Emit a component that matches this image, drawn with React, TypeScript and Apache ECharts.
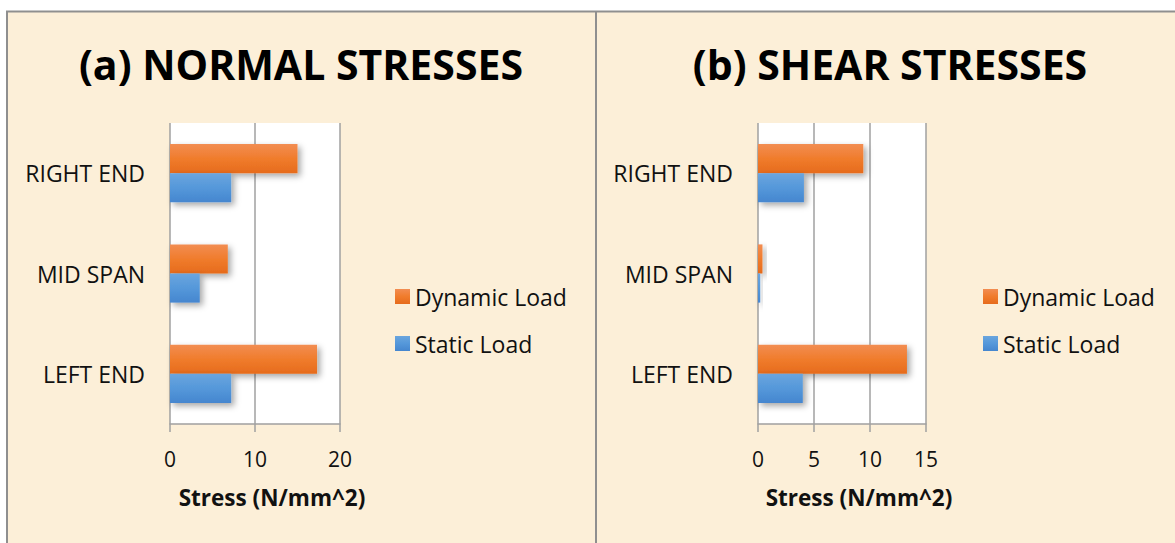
import React, { useEffect, useRef } from "react";
import * as echarts from "echarts";

const categories = ["LEFT END", "MID SPAN", "RIGHT END"];
const normalStatic = [7.2, 3.5, 7.2];
const normalDynamic = [17.3, 6.8, 15.0];
const shearStatic = [4.0, 0.2, 4.1];
const shearDynamic = [13.3, 0.4, 9.4];
const normalTicks = { min: 0, max: 20, interval: 10 };
const shearTicks = { min: 0, max: 15, interval: 5 };
const titles = ["(a) NORMAL STRESSES", "(b) SHEAR STRESSES"];
const axisTitle = "Stress (N/mm^2)";
const seriesNames = ["Dynamic Load", "Static Load"];

const FONT = "Open Sans";

const orange = new echarts.graphic.LinearGradient(0, 0, 0, 1, [
  { offset: 0, color: "#f28d52" },
  { offset: 0.5, color: "#f07c2c" },
  { offset: 1, color: "#e66b1c" },
]);
const blue = new echarts.graphic.LinearGradient(0, 0, 0, 1, [
  { offset: 0, color: "#6aa5de" },
  { offset: 0.5, color: "#5598da" },
  { offset: 1, color: "#4586cf" },
]);

function barSeries(name: string, data: number[], idx: number, color: any) {
  return {
    name,
    type: "bar",
    xAxisIndex: idx,
    yAxisIndex: idx,
    data,
    barGap: "0%",
    barCategoryGap: "42%",
    itemStyle: {
      color,
      shadowBlur: 6,
      shadowOffsetX: 3,
      shadowOffsetY: 3,
      shadowColor: "rgba(0,0,0,0.35)",
    },
  };
}

function xAx(idx: number, t: { min: number; max: number; interval: number }) {
  return {
    type: "value",
    gridIndex: idx,
    min: t.min,
    max: t.max,
    interval: t.interval,
    axisLine: { show: true, lineStyle: { color: "#a0a0a0", width: 1.5 } },
    axisTick: { show: true, length: 8, lineStyle: { color: "#a0a0a0", width: 1.5 } },
    splitLine: { show: true, lineStyle: { color: "#a0a0a0", width: 1.5 } },
    axisLabel: { margin: 24, fontSize: 21, color: "#111", fontFamily: FONT },
    name: axisTitle,
    nameLocation: "middle",
    nameGap: 62,
    nameTextStyle: {
      fontSize: 22.5,
      fontWeight: "bold",
      color: "#111",
      fontFamily: FONT,
      padding: [0, 0, 0, 34],
    },
  };
}

function yAx(idx: number) {
  return {
    type: "category",
    gridIndex: idx,
    data: categories,
    axisLine: { show: false },
    axisTick: { show: false },
    axisLabel: { margin: 25, fontSize: 23, color: "#111", fontFamily: FONT },
  };
}

function legend(left: number) {
  return {
    orient: "vertical",
    left,
    top: 285,
    padding: 0,
    itemWidth: 15,
    itemHeight: 15,
    itemGap: 24,
    icon: "rect",
    data: seriesNames,
    textStyle: { fontSize: 23, color: "#111", fontFamily: FONT, padding: [0, 0, 0, 0] },
  };
}

export default function App() {
  const ref = useRef<HTMLDivElement>(null);
  useEffect(() => {
    document.body.style.margin = "0";
    const chart = echarts.init(ref.current!, null, { renderer: "svg" });
    chart.setOption({
      animation: false,
      backgroundColor: "#ffffff",
      graphic: [
        {
          type: "rect",
          z: -10,
          shape: { x: 7, y: 11.5, width: 1175, height: 540 },
          style: { fill: "#fcefd8", stroke: "#8f8f8f", lineWidth: 2 },
          silent: true,
        },
        {
          type: "line",
          z: -9,
          shape: { x1: 596, y1: 11.5, x2: 596, y2: 543 },
          style: { stroke: "#8f8f8f", lineWidth: 2 },
          silent: true,
        },
        {
          type: "text",
          x: 301,
          y: 64,
          style: {
            text: titles[0],
            fontSize: 41,
            fontWeight: "bold",
            fontFamily: FONT,
            fill: "#000",
            align: "center",
            verticalAlign: "middle",
          },
        },
        {
          type: "text",
          x: 890,
          y: 64,
          style: {
            text: titles[1],
            fontSize: 41,
            fontWeight: "bold",
            fontFamily: FONT,
            fill: "#000",
            align: "center",
            verticalAlign: "middle",
          },
        },
      ],
      grid: [
        { left: 170, top: 123, width: 170, height: 301, show: true, backgroundColor: "#ffffff", borderWidth: 0 },
        { left: 758, top: 123, width: 168, height: 301, show: true, backgroundColor: "#ffffff", borderWidth: 0 },
      ],
      xAxis: [xAx(0, normalTicks), xAx(1, shearTicks)],
      yAxis: [yAx(0), yAx(1)],
      legend: [legend(395), legend(983)],
      series: [
        barSeries("Dynamic Load", normalDynamic, 0, orange),
        barSeries("Static Load", normalStatic, 0, blue),
        barSeries("Dynamic Load", shearDynamic, 1, orange),
        barSeries("Static Load", shearStatic, 1, blue),
      ],
    });
    return () => chart.dispose();
  }, []);
  return <div ref={ref} style={{ width: 1175, height: 543 }} />;
}
